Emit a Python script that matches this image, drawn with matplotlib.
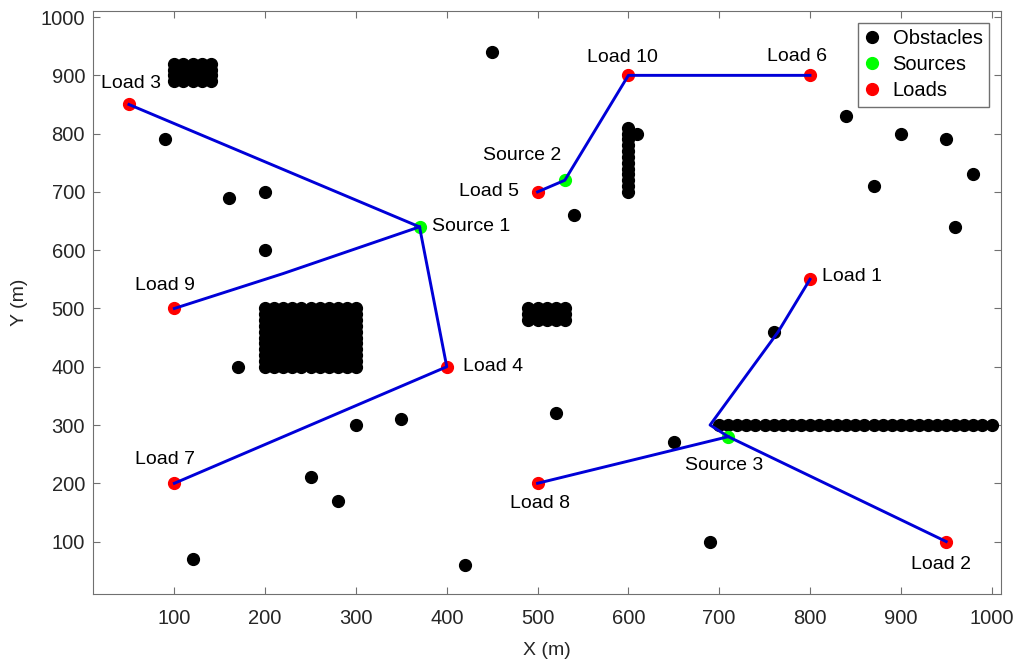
import numpy as np
import matplotlib.pyplot as plt

plt.rcParams['font.family'] = ['Liberation Sans', 'DejaVu Sans']

# single obstacles
obs_x = [450, 90, 160, 200, 200, 170, 300, 350, 250, 280, 120, 420, 540, 520,
         650, 690, 760, 840, 900, 950, 870, 980, 960, 610]
obs_y = [940, 790, 690, 700, 600, 400, 300, 310, 210, 170, 70, 60, 660, 320,
         270, 100, 460, 830, 800, 790, 710, 730, 640, 800]

# obstacle blocks on a 10 m grid: x from/to, y from/to
block_x0 = [100, 200, 490, 600, 700]
block_x1 = [140, 300, 530, 600, 1000]
block_y0 = [890, 400, 480, 700, 300]
block_y1 = [920, 500, 500, 810, 300]
GRID = 10

src_names = ['Source 1', 'Source 2', 'Source 3']
src_x = [370, 530, 710]
src_y = [640, 720, 280]

load_names = ['Load 1', 'Load 2', 'Load 3', 'Load 4', 'Load 5',
              'Load 6', 'Load 7', 'Load 8', 'Load 9', 'Load 10']
load_x = [800, 950, 50, 400, 500, 800, 100, 500, 100, 600]
load_y = [550, 100, 850, 400, 700, 900, 200, 200, 500, 900]

# cable routes
route_x = [[50, 370, 400, 100], [100, 220, 370], [500, 530, 600, 800],
           [800, 765, 690, 710, 950], [710, 500]]
route_y = [[850, 640, 400, 200], [500, 560, 640], [700, 720, 900, 900],
           [550, 460, 300, 280, 100], [280, 200]]

# label offsets in points and alignment
src_off = [(9, 0, 'left'), (-31, 18, 'center'), (-3, -21, 'center')]
load_off = [(8.6, 2, 'left'), (-3.6, -16.6, 'center'), (1.5, 15, 'center'),
            (11.5, 0, 'left'), (-13.5, 0, 'right'), (-9.4, 13.7, 'center'),
            (-6.5, 17, 'center'), (2, -14.4, 'center'), (-6.5, 16.5, 'center'),
            (-4.3, 13, 'center')]

fig = plt.figure(figsize=(10.26, 6.62), dpi=100)
ax = fig.add_axes([0.0903, 0.1027, 0.885, 0.8803])

bx, by = list(obs_x), list(obs_y)
for x0, x1, y0, y1 in zip(block_x0, block_x1, block_y0, block_y1):
    gx, gy = np.meshgrid(np.arange(x0, x1 + 1, GRID), np.arange(y0, y1 + 1, GRID))
    bx += list(gx.ravel())
    by += list(gy.ravel())

ms = 8.5
ax.plot(bx, by, 'o', color='black', ms=ms, ls='none', label='Obstacles', clip_on=False, zorder=2)
ax.plot(src_x, src_y, 'o', color='#00ff00', ms=ms, ls='none', label='Sources', zorder=2)
ax.plot(load_x, load_y, 'o', color='red', ms=ms, ls='none', label='Loads', zorder=2)

for rx, ry in zip(route_x, route_y):
    ax.plot(rx, ry, color='#0000d8', lw=2.1, zorder=3)

for name, x, y, (dx, dy, ha) in zip(src_names, src_x, src_y, src_off):
    ax.annotate(name, (x, y), xytext=(dx, dy), textcoords='offset points',
                ha=ha, va='center', fontsize=14)
for name, x, y, (dx, dy, ha) in zip(load_names, load_x, load_y, load_off):
    ax.annotate(name, (x, y), xytext=(dx, dy), textcoords='offset points',
                ha=ha, va='center', fontsize=14)

ax.set_xlim(10, 1010)
ax.set_ylim(10, 1010)
ax.set_xticks(range(100, 1001, 100))
ax.set_yticks(range(100, 1001, 100))
ax.tick_params(direction='in', length=5, top=True, right=True,
               labelsize=14.5, colors='#707070', labelcolor='#262626')
ax.tick_params(axis='x', pad=11)
ax.tick_params(axis='y', pad=5.5)
for s in ax.spines.values():
    s.set_color('#707070')
ax.set_xlabel('X (m)', fontsize=14, color='#262626', labelpad=10)
ax.set_ylabel('Y (m)', fontsize=14, color='#262626', labelpad=9)

leg = ax.legend(loc='upper right', fontsize=14.5, handlelength=0.8, handletextpad=0.6,
                labelspacing=0.35, borderpad=0.3, borderaxespad=0.6, fancybox=False,
                framealpha=1)
leg.get_frame().set_edgecolor('#707070')
leg.get_frame().set_linewidth(1)

fig.savefig('out.png', dpi=100)
